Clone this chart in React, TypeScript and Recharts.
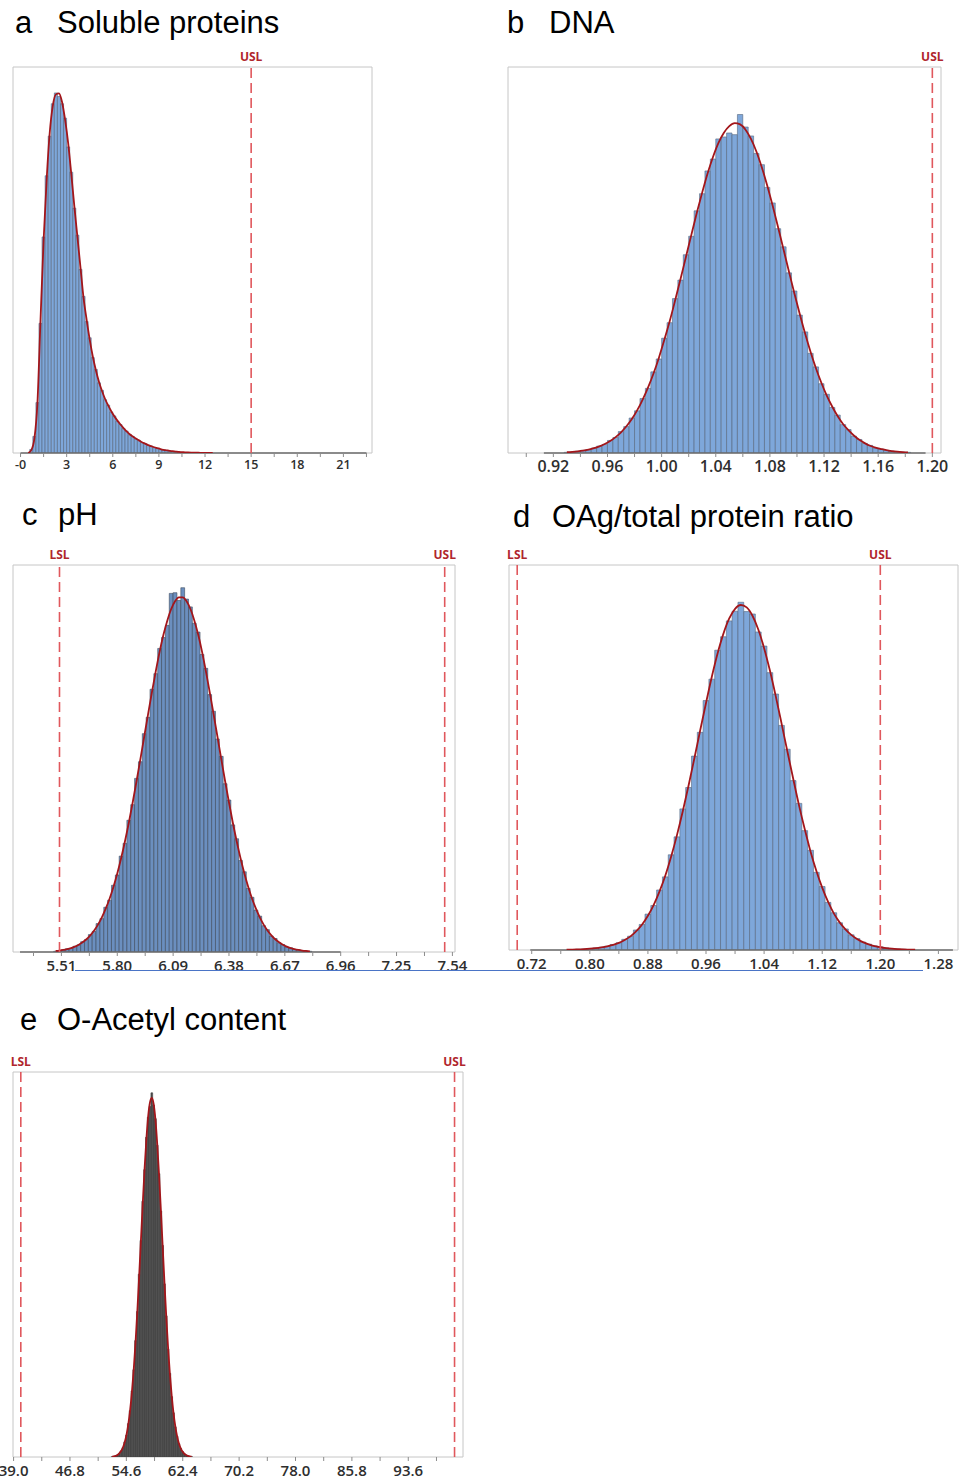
import React from 'react'
import {
  ComposedChart, Bar, Line, XAxis, YAxis, ReferenceLine, ReferenceArea,
} from 'recharts'

// a  Soluble proteins
const aBins = [0.5, 0.7, 0.9, 1.1, 1.3, 1.5, 1.7, 1.9, 2.1, 2.3, 2.5, 2.7, 2.9, 3.1, 3.3, 3.5, 3.7, 3.9, 4.1, 4.3, 4.5, 4.7, 4.9, 5.1, 5.3, 5.5, 5.7, 5.9, 6.1, 6.3, 6.5, 6.7, 6.9, 7.1, 7.3, 7.5, 7.7, 7.9, 8.1, 8.3, 8.5, 8.7, 8.9, 9.1, 9.3, 9.5, 9.7, 9.9, 10.1, 10.3, 10.5, 10.7, 10.9, 11.1, 11.3, 11.5, 11.7, 11.9, 12.1, 12.3, 12.5]
const aCounts = [0, 1.0, 4.6, 14, 36, 60, 77, 88, 97, 100, 99, 97, 93, 85, 78, 68, 60.5, 51, 43.5, 36.5, 32, 26.5, 23.2, 19.5, 17.4, 14.8, 13.3, 11.4, 10.3, 8.8, 7.9, 6.8, 6.1, 5.1, 4.6, 3.9, 3.5, 2.9, 2.6, 2.1, 1.9, 1.5, 1.3, 1.0, 0.9, 0.7, 0.5, 0.4, 0.3, 0.2, 0, 0, 0, 0, 0, 0, 0, 0, 0, 0, 0]
const aFit = [0, 0.8, 4, 14, 37, 59, 76, 89, 96.5, 99.6, 99.9, 97.5, 92.5, 86, 77.5, 68.5, 60, 51.5, 43, 37, 31.5, 26.8, 23, 19.8, 17.2, 15, 13.2, 11.6, 10.2, 9, 7.9, 6.9, 6, 5.2, 4.6, 4, 3.5, 3, 2.6, 2.2, 1.9, 1.6, 1.35, 1.1, 0.9, 0.75, 0.6, 0.5, 0.4, 0.3, 0.25, 0.2, 0.15, 0.12, 0.1, 0.08, 0.06, 0.05, 0.04, 0.03, 0.02]
const aTicks = [0, 1.5, 3, 4.5, 6, 7.5, 9, 10.5, 12, 13.5, 15, 16.5, 18, 19.5, 21, 22.5]
const aTickLabels = ['-0', '', '3', '', '6', '', '9', '', '12', '', '15', '', '18', '', '21', '']
const aLimits = [{ label: 'USL', value: 15 }]
const aRange = [0, 22.5]

// b  DNA
const bBins = [0.930, 0.934, 0.938, 0.942, 0.946, 0.950, 0.954, 0.958, 0.962, 0.966, 0.970, 0.974, 0.978, 0.982, 0.986, 0.990, 0.994, 0.998, 1.002, 1.006, 1.010, 1.014, 1.018, 1.022, 1.026, 1.030, 1.034, 1.038, 1.042, 1.046, 1.050, 1.054, 1.058, 1.062, 1.066, 1.070, 1.074, 1.078, 1.082, 1.086, 1.090, 1.094, 1.098, 1.102, 1.106, 1.110, 1.114, 1.118, 1.122, 1.126, 1.130, 1.134, 1.138, 1.142, 1.146, 1.150, 1.154, 1.158, 1.162, 1.166, 1.170, 1.174, 1.178, 1.182]
const bCounts = [0.2, 0.3, 0.5, 0.8, 1.0, 1.5, 2.1, 2.6, 3.8, 4.7, 6.5, 8.0, 10.6, 12.8, 16.5, 19.6, 24.6, 28.5, 34.8, 39.5, 46.8, 52.4, 60.1, 65.7, 73.4, 78.6, 85.5, 89.1, 95.2, 95.8, 97.0, 96.5, 102.6, 98.8, 96.1, 90.8, 87.4, 80.5, 75.8, 68.0, 62.5, 54.6, 49.1, 41.8, 36.7, 30.2, 26.1, 21.0, 17.8, 13.8, 11.5, 8.6, 7.1, 5.1, 4.1, 2.9, 2.3, 1.5, 1.2, 0.8, 0.6, 0.4, 0.3, 0.2]
const bFit = [0.25, 0.36, 0.52, 0.74, 1.05, 1.46, 2.0, 2.71, 3.63, 4.81, 6.28, 8.1, 10.3, 13.0, 16.2, 19.9, 24.1, 28.9, 34.3, 40.0, 46.3, 52.8, 59.5, 66.2, 72.8, 79.0, 84.8, 89.8, 94.0, 97.1, 99.1, 100, 99.6, 98.0, 95.2, 91.4, 86.6, 81.1, 75.0, 68.5, 61.8, 55.1, 48.5, 42.2, 36.2, 30.7, 25.7, 21.3, 17.4, 14.1, 11.2, 8.8, 6.9, 5.3, 4.0, 3.0, 2.2, 1.6, 1.2, 0.84, 0.59, 0.41, 0.28, 0.19]
const bTicks = [0.90, 0.92, 0.94, 0.96, 0.98, 1.00, 1.02, 1.04, 1.06, 1.08, 1.10, 1.12, 1.14, 1.16, 1.18, 1.20]
const bTickLabels = ['', '0.92', '', '0.96', '', '1.00', '', '1.04', '', '1.08', '', '1.12', '', '1.16', '', '1.20']
const bLimits = [{ label: 'USL', value: 1.2 }]
const bRange = [0.913, 1.195]

// c  pH
const cBins = [5.48, 5.50, 5.52, 5.54, 5.56, 5.58, 5.60, 5.62, 5.64, 5.66, 5.68, 5.70, 5.72, 5.74, 5.76, 5.78, 5.80, 5.82, 5.84, 5.86, 5.88, 5.90, 5.92, 5.94, 5.96, 5.98, 6.00, 6.02, 6.04, 6.06, 6.08, 6.10, 6.12, 6.14, 6.16, 6.18, 6.20, 6.22, 6.24, 6.26, 6.28, 6.30, 6.32, 6.34, 6.36, 6.38, 6.40, 6.42, 6.44, 6.46, 6.48, 6.50, 6.52, 6.54, 6.56, 6.58, 6.60, 6.62, 6.64, 6.66, 6.68, 6.70, 6.72, 6.74, 6.76, 6.78, 6.80]
const cCounts = [0.2, 0.4, 0.6, 0.9, 1.0, 1.6, 2.0, 2.9, 3.5, 4.9, 5.8, 8.0, 9.4, 12.6, 14.6, 18.8, 21.7, 27.0, 30.6, 37.1, 41.5, 48.9, 53.6, 61.5, 66.1, 74.0, 78.4, 85.5, 88.6, 92.0, 101.0, 101.2, 99.0, 102.6, 99.4, 97.2, 92.6, 90.1, 83.8, 79.9, 72.5, 67.8, 60.0, 55.1, 47.4, 42.8, 35.8, 31.9, 25.8, 22.6, 17.9, 15.4, 11.8, 10.1, 7.4, 6.3, 4.5, 3.8, 2.6, 2.1, 1.4, 1.2, 0.7, 0.6, 0.4, 0.3, 0.2]
const cFit = [0.29, 0.41, 0.58, 0.81, 1.11, 1.51, 2.04, 2.73, 3.60, 4.69, 6.05, 7.72, 9.75, 12.2, 15.0, 18.3, 22.1, 26.4, 31.2, 36.4, 42.1, 48.1, 54.3, 60.7, 67.0, 73.2, 79.1, 84.6, 89.4, 93.4, 96.6, 98.8, 99.9, 99.9, 98.8, 96.6, 93.4, 89.4, 84.6, 79.1, 73.2, 67.0, 60.7, 54.3, 48.1, 42.1, 36.4, 31.2, 26.4, 22.1, 18.3, 15.0, 12.2, 9.75, 7.72, 6.05, 4.69, 3.60, 2.73, 2.04, 1.51, 1.11, 0.81, 0.58, 0.41, 0.29, 0.2]
const cTicks = [5.365, 5.51, 5.655, 5.80, 5.945, 6.09, 6.235, 6.38, 6.525, 6.67, 6.815, 6.96, 7.105, 7.25, 7.395, 7.54]
const cTickLabels = ['', '5.51', '', '5.80', '', '6.09', '', '6.38', '', '6.67', '', '6.96', '', '7.25', '', '7.54']
const cLimits = [{ label: 'LSL', value: 5.5 }, { label: 'USL', value: 7.5 }]
const cRange = [5.295, 6.96]

// d  OAg/total protein ratio
const dBins = [0.768, 0.776, 0.784, 0.792, 0.800, 0.808, 0.816, 0.824, 0.832, 0.840, 0.848, 0.856, 0.864, 0.872, 0.880, 0.888, 0.896, 0.904, 0.912, 0.920, 0.928, 0.936, 0.944, 0.952, 0.960, 0.968, 0.976, 0.984, 0.992, 1.000, 1.008, 1.016, 1.024, 1.032, 1.040, 1.048, 1.056, 1.064, 1.072, 1.080, 1.088, 1.096, 1.104, 1.112, 1.120, 1.128, 1.136, 1.144, 1.152, 1.160, 1.168, 1.176, 1.184, 1.192, 1.200, 1.208, 1.216, 1.224, 1.232, 1.240, 1.248]
const dCounts = [0, 0.1, 0.2, 0.3, 0.4, 0.6, 0.8, 1.1, 1.6, 2.1, 3.1, 4.0, 5.8, 7.4, 10.4, 12.9, 17.4, 21.2, 27.6, 32.8, 40.9, 47.1, 56.2, 63.1, 72.3, 78.5, 86.9, 90.8, 95.4, 98.2, 100.8, 98.1, 97.4, 92.2, 88.1, 80.4, 74.2, 65.1, 58.2, 49.1, 42.5, 34.6, 28.9, 22.5, 18.4, 13.8, 10.8, 7.9, 6.1, 4.4, 3.3, 2.3, 1.7, 1.2, 0.9, 0.6, 0.4, 0.3, 0.2, 0.1, 0]
const dFit = [0.08, 0.12, 0.18, 0.26, 0.38, 0.54, 0.76, 1.06, 1.5, 2.05, 2.9, 3.95, 5.45, 7.4, 9.92, 13.1, 17.0, 21.6, 27.1, 33.3, 40.2, 47.7, 55.6, 63.7, 71.6, 79.2, 86.0, 91.7, 96.1, 98.9, 100, 99.3, 96.9, 92.9, 87.5, 81.0, 73.6, 65.7, 57.6, 49.7, 42.0, 35.0, 28.5, 22.9, 18.1, 14.0, 10.6, 8.0, 6.0, 4.4, 3.2, 2.3, 1.65, 1.15, 0.8, 0.55, 0.38, 0.26, 0.17, 0.11, 0.07]
const dTicks = [0.72, 0.76, 0.80, 0.84, 0.88, 0.92, 0.96, 1.00, 1.04, 1.08, 1.12, 1.16, 1.20, 1.24, 1.28]
const dTickLabels = ['0.72', '', '0.80', '', '0.88', '', '0.96', '', '1.04', '', '1.12', '', '1.20', '', '1.28']
const dLimits = [{ label: 'LSL', value: 0.7 }, { label: 'USL', value: 1.2 }]
const dRange = [0.718, 1.3]

// e  O-Acetyl content
const eBins = [52.625, 52.875, 53.125, 53.375, 53.625, 53.875, 54.125, 54.375, 54.625, 54.875, 55.125, 55.375, 55.625, 55.875, 56.125, 56.375, 56.625, 56.875, 57.125, 57.375, 57.625, 57.875, 58.125, 58.375, 58.625, 58.875, 59.125, 59.375, 59.625, 59.875, 60.125, 60.375, 60.625, 60.875, 61.125, 61.375, 61.625, 61.875, 62.125, 62.375, 62.625, 62.875, 63.125, 63.375, 63.625]
const eCounts = [0.1, 0.2, 0.3, 0.6, 1.0, 1.7, 2.6, 4.2, 6.1, 9.3, 12.9, 18.4, 24.3, 32.4, 40.5, 50.9, 60.3, 71.2, 80.0, 89.0, 94.6, 97.6, 101.4, 98.0, 94.2, 86.8, 78.9, 68.5, 58.9, 48.2, 39.3, 30.1, 23.3, 16.8, 12.3, 8.4, 5.8, 3.7, 2.4, 1.5, 0.9, 0.5, 0.3, 0.2, 0.1]
const eFit = [0.10, 0.19, 0.34, 0.59, 1.00, 1.65, 2.65, 4.12, 6.23, 9.16, 13.1, 18.2, 24.5, 32.1, 40.8, 50.5, 60.7, 70.8, 80.4, 88.6, 95.0, 98.8, 100, 98.3, 93.9, 87.1, 78.6, 68.8, 58.6, 48.5, 39.0, 30.4, 23.1, 17.0, 12.2, 8.50, 5.75, 3.78, 2.42, 1.50, 0.91, 0.53, 0.30, 0.17, 0.09]
const eTicks = [39.0, 42.9, 46.8, 50.7, 54.6, 58.5, 62.4, 66.3, 70.2, 74.1, 78.0, 81.9, 85.8, 89.7, 93.6, 97.5]
const eTickLabels = ['39.0', '', '46.8', '', '54.6', '', '62.4', '', '70.2', '', '78.0', '', '85.8', '', '93.6', '']
const eLimits = [{ label: 'LSL', value: 40 }, { label: 'USL', value: 100 }]

const PAD = 30
const TICK_FONT = "'Open Sans', 'Noto Sans', sans-serif"
const TITLE_FONT = "'Liberation Sans', Arial, sans-serif"

type Box = { left: number; top: number; width: number; height: number }

type PanelProps = {
  bins: number[]
  counts: number[]
  fit: number[]
  ticks: number[]
  tickLabels: string[]
  limits: { label: string; value: number }[]
  range?: number[]
  box: Box
  domain: [number, number]
  yMax: number
  fill: string
  edge: string
  tickFont: number
  tickGap: number
}

function Panel(p: PanelProps) {
  const data = p.bins.map((x, i) => ({ x, count: p.counts[i], fit: p.fit[i] }))
  const binPx = (p.bins[1] - p.bins[0]) * p.box.width / (p.domain[1] - p.domain[0])
  return (
    <div style={{ position: 'absolute', left: p.box.left - PAD, top: p.box.top - PAD }}>
      <ComposedChart
        width={p.box.width + PAD * 2}
        height={p.box.height + PAD * 2}
        data={data}
        margin={{ top: PAD, right: PAD, bottom: 0, left: PAD }}
        barCategoryGap={0}
        barGap={0}
      >
        <XAxis
          type="number"
          dataKey="x"
          domain={p.domain}
          allowDataOverflow
          ticks={p.ticks}
          interval={0}
          tickFormatter={(v: number) => p.tickLabels[p.ticks.indexOf(v)] ?? ''}
          height={PAD}
          axisLine={false}
          tickSize={4}
          tickMargin={p.tickGap}
          tickLine={{ stroke: '#8c8c8c' }}
          tick={{ fontSize: p.tickFont, fill: '#2e2e2e', fontFamily: TICK_FONT, fontWeight: 600 }}
        />
        <YAxis hide type="number" domain={[0, p.yMax]} allowDataOverflow />
        <ReferenceArea x1={p.domain[0]} x2={p.domain[1]} y1={0} y2={p.yMax} fill="none" fillOpacity={0} stroke="#c6c6c6" strokeOpacity={1} />
        {p.range && (
          <ReferenceLine segment={[{ x: p.range[0], y: 0 }, { x: p.range[1], y: 0 }]} stroke="#6e6e6e" strokeWidth={1.5} />
        )}
        <Bar dataKey="count" fill={p.fill} stroke={p.edge} strokeWidth={0.6} barSize={binPx - 0.05} isAnimationActive={false} />
        <Line type="monotone" dataKey="fit" stroke="#a3161b" strokeWidth={1.8} dot={false} isAnimationActive={false} />
        {p.limits.map(l => (
          <ReferenceLine
            key={l.label}
            x={l.value}
            stroke="#e0585d"
            strokeWidth={1.6}
            strokeDasharray="10 5"
            label={{ value: l.label, position: 'top', offset: 6, fill: '#b0262d', fontSize: 12, fontWeight: 700, fontFamily: TICK_FONT }}
          />
        ))}
      </ComposedChart>
    </div>
  )
}

function Title({ letter, text, letterX, textX, baseline }: { letter: string; text: string; letterX: number; textX: number; baseline: number }) {
  const style = { position: 'absolute' as const, top: baseline - 26, fontFamily: TITLE_FONT, fontSize: 31, lineHeight: '31px', color: '#000', whiteSpace: 'nowrap' as const }
  return (
    <>
      <div style={{ ...style, left: letterX }}>{letter}</div>
      <div style={{ ...style, left: textX }}>{text}</div>
    </>
  )
}

export default function App() {
  return (
    <div style={{ position: 'absolute', left: 0, top: 0, width: 968, height: 1481, overflow: 'hidden', background: '#fff' }}>
      <Title letter="a" text="Soluble proteins" letterX={15} textX={57} baseline={33} />
      <Title letter="b" text="DNA" letterX={507} textX={549} baseline={33} />
      <Title letter="c" text="pH" letterX={22} textX={58} baseline={525} />
      <Title letter="d" text="OAg/total protein ratio" letterX={513} textX={552} baseline={527} />
      <Title letter="e" text="O-Acetyl content" letterX={20} textX={57} baseline={1030} />

      <Panel
        bins={aBins} counts={aCounts} fit={aFit} ticks={aTicks} tickLabels={aTickLabels} limits={aLimits} range={aRange}
        box={{ left: 13, top: 67, width: 359, height: 386 }} domain={[-0.49, 22.86]} yMax={107.2}
        fill="#7ea7da" edge="#56677e" tickFont={12.5} tickGap={3.6}
      />
      <Panel
        bins={bBins} counts={bCounts} fit={bFit} ticks={bTicks} tickLabels={bTickLabels} limits={bLimits} range={bRange}
        box={{ left: 508, top: 67, width: 433, height: 386 }} domain={[0.8865, 1.2064]} yMax={117}
        fill="#7ea7da" edge="#56677e" tickFont={16} tickGap={3.7}
      />
      <Panel
        bins={cBins} counts={cCounts} fit={cFit} ticks={cTicks} tickLabels={cTickLabels} limits={cLimits} range={cRange}
        box={{ left: 13, top: 565, width: 442, height: 387 }} domain={[5.2586, 7.5535]} yMax={109}
        fill="#6b8fbf" edge="#3d4a5c" tickFont={15} tickGap={4.7}
      />
      <Panel
        bins={dBins} counts={dCounts} fit={dFit} ticks={dTicks} tickLabels={dTickLabels} limits={dLimits} range={dRange}
        box={{ left: 509, top: 565, width: 449, height: 385 }} domain={[0.6887, 1.307]} yMax={111.6}
        fill="#7ea7da" edge="#56677e" tickFont={15} tickGap={4.7}
      />
      <Panel
        bins={eBins} counts={eCounts} fit={eFit} ticks={eTicks} tickLabels={eTickLabels} limits={eLimits}
        box={{ left: 13, top: 1072, width: 450, height: 385 }} domain={[38.92, 101.17]} yMax={107.2}
        fill="#4a4a4a" edge="#434343" tickFont={15} tickGap={4.2}
      />

      <div style={{ position: 'absolute', left: 75, top: 970, width: 848, borderTop: '1.5px solid #4a74c6' }} />
    </div>
  )
}
